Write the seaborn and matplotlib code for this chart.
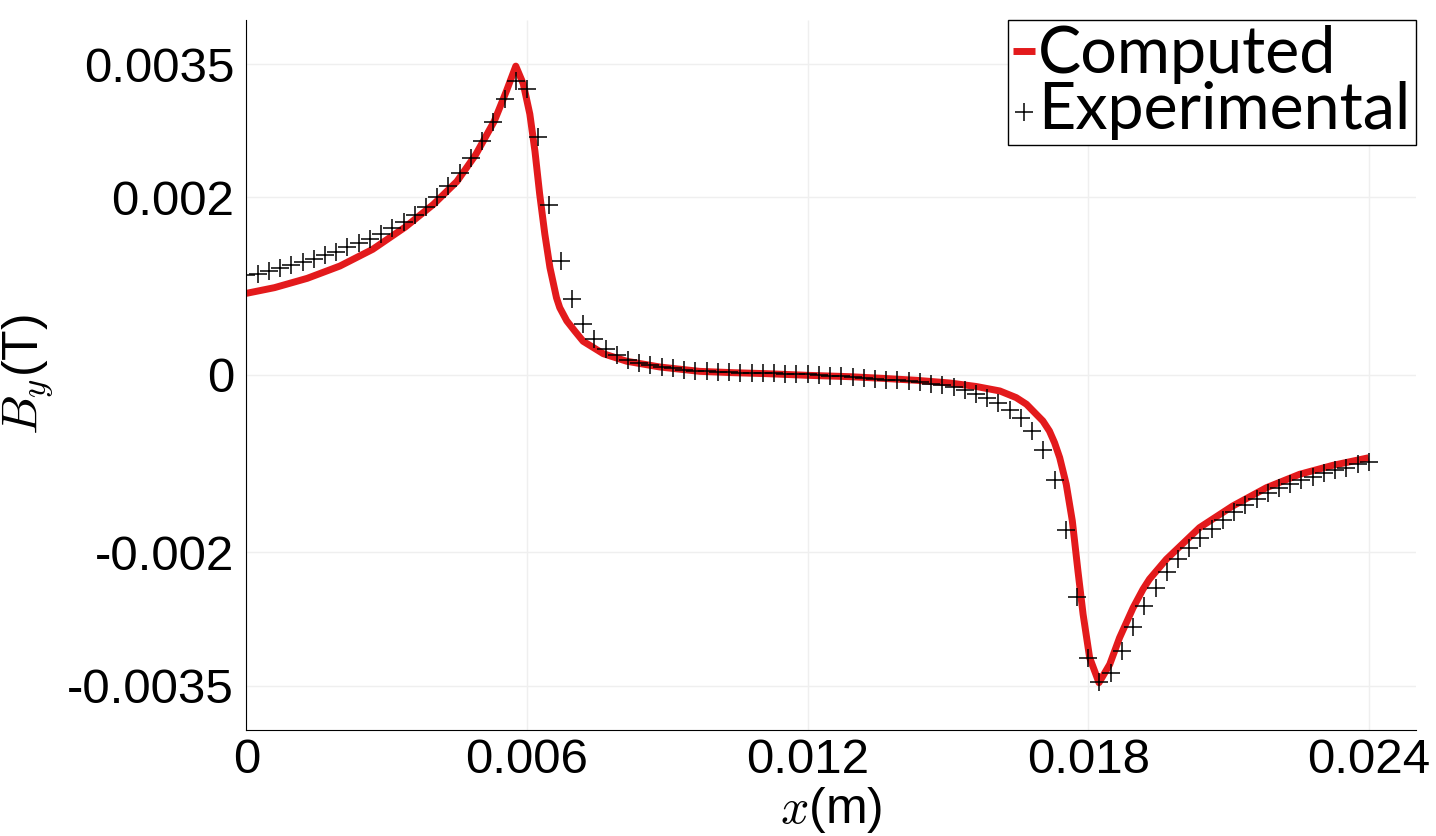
## By along x: computed vs experimental
import numpy as np
import pandas as pd
import seaborn as sns
import matplotlib.pyplot as plt

# computed curve (x in m, By in mT)
comp_x = [0.0, 0.0006, 0.0013, 0.0020, 0.0027, 0.0034, 0.0040, 0.0045, 0.0049, 0.0053,
          0.00556, 0.00576, 0.00592, 0.00606, 0.00617, 0.00627, 0.00638, 0.00649, 0.00663, 0.0067,
          0.00685, 0.00702, 0.0072, 0.00763, 0.00813, 0.00884, 0.00969, 0.01041, 0.01112, 0.01201,
          0.0129, 0.01361, 0.01433, 0.01504, 0.01561, 0.01611, 0.01646, 0.01668, 0.01689, 0.01703,
          0.01717, 0.01728, 0.01739, 0.01753, 0.01766, 0.01778, 0.01789, 0.01803, 0.01823, 0.01846,
          0.01867, 0.01896, 0.01917, 0.01931, 0.01967, 0.02038, 0.02109, 0.02181, 0.02252, 0.02323,
          0.024]
comp_by = [0.920, 0.984, 1.089, 1.228, 1.416, 1.668, 1.923, 2.180, 2.480, 2.860,
           3.200, 3.480, 3.280, 2.940, 2.520, 2.040, 1.590, 1.210, 0.870, 0.758,
           0.610, 0.496, 0.380, 0.240, 0.155, 0.090, 0.041, 0.026, 0.015, -0.004,
           -0.019, -0.038, -0.060, -0.090, -0.130, -0.180, -0.255, -0.330, -0.443, -0.518,
           -0.631, -0.763, -0.932, -1.232, -1.645, -2.208, -2.696, -3.185, -3.467, -3.260,
           -2.960, -2.622, -2.415, -2.300, -2.077, -1.720, -1.476, -1.270, -1.119, -1.018,
           -0.932]

# experimental points (x in m, By in mT)
exp_x = [0.0, 0.00024, 0.00048, 0.00072, 0.00096, 0.0012, 0.00144, 0.00168, 0.00192, 0.00216,
         0.0024, 0.00264, 0.00288, 0.00312, 0.00336, 0.0036, 0.00384, 0.00408, 0.00432, 0.00456,
         0.0048, 0.00504, 0.00528, 0.00552, 0.00576, 0.006, 0.00624, 0.00648, 0.00672, 0.00696,
         0.0072, 0.00744, 0.00768, 0.00792, 0.00816, 0.0084, 0.00864, 0.00888, 0.00912, 0.00936,
         0.0096, 0.00984, 0.01008, 0.01032, 0.01056, 0.0108, 0.01104, 0.01128, 0.01152, 0.01176,
         0.012, 0.01224, 0.01248, 0.01272, 0.01296, 0.0132, 0.01344, 0.01368, 0.01392, 0.01416,
         0.0144, 0.01464, 0.01488, 0.01512, 0.01536, 0.0156, 0.01584, 0.01608, 0.01632, 0.01656,
         0.0168, 0.01704, 0.01728, 0.01752, 0.01776, 0.018, 0.01824, 0.01848, 0.01872, 0.01896,
         0.0192, 0.01944, 0.01968, 0.01992, 0.02016, 0.0204, 0.02064, 0.02088, 0.02112, 0.02136,
         0.0216, 0.02184, 0.02208, 0.02232, 0.02256, 0.0228, 0.02304, 0.02328, 0.02352, 0.02376,
         0.024]
exp_by = [1.127, 1.142, 1.172, 1.206, 1.236, 1.270, 1.307, 1.348, 1.390, 1.439,
          1.484, 1.536, 1.592, 1.653, 1.727, 1.800, 1.897, 2.006, 2.126, 2.272,
          2.442, 2.637, 2.856, 3.106, 3.313, 3.219, 2.678, 1.919, 1.281, 0.853,
          0.578, 0.402, 0.290, 0.222, 0.166, 0.132, 0.109, 0.090, 0.075, 0.060,
          0.049, 0.041, 0.034, 0.030, 0.026, 0.0225, 0.0225, 0.019, 0.015, 0.011,
          0.0075, 0.0, -0.0075, -0.015, -0.0225, -0.030, -0.041, -0.053, -0.060, -0.071,
          -0.083, -0.098, -0.116, -0.133, -0.165, -0.210, -0.257, -0.315, -0.389, -0.481,
          -0.635, -0.845, -1.187, -1.750, -2.501, -3.185, -3.456, -3.358, -3.112, -2.841,
          -2.603, -2.400, -2.223, -2.073, -1.953, -1.840, -1.739, -1.637, -1.547, -1.468,
          -1.397, -1.330, -1.277, -1.232, -1.187, -1.149, -1.108, -1.074, -1.044, -1.007,
          -0.984]

xticks = [0, 0.006, 0.012, 0.018, 0.024]
xtick_labels = ['0', '0.006', '0.012', '0.018', '0.024']
yticks = [0.0035, 0.002, 0, -0.002, -0.0035]
ytick_labels = ['0.0035', '0.002', '0', '-0.002', '-0.0035']

sns.set_style('whitegrid', {'grid.color': '#efefef', 'axes.edgecolor': 'black'})
plt.rcParams['font.family'] = ['Liberation Sans', 'DejaVu Sans']
plt.rcParams['mathtext.fontset'] = 'cm'
plt.rcParams['axes.unicode_minus'] = False
plt.rcParams['text.color'] = 'black'
plt.rcParams['axes.labelcolor'] = 'black'
plt.rcParams['lines.solid_capstyle'] = 'butt'

comp = pd.DataFrame({'x': comp_x, 'By': np.array(comp_by) / 1000})
exp = pd.DataFrame({'x': exp_x, 'By': np.array(exp_by) / 1000})

fig = plt.figure(figsize=(14.36, 8.36), dpi=100)
ax = fig.add_axes([0.1716, 0.1268, 0.8142, 0.8493])

sns.lineplot(data=comp, x='x', y='By', color='#e31a1c', linewidth=5, sort=False,
             label='Computed', ax=ax)
sns.scatterplot(data=exp, x='x', y='By', marker='+', s=13.5**2, color='black',
                linewidth=1.1, label='Experimental', ax=ax, zorder=3)

ax.set_xlim(0, 0.025)
ax.set_ylim(-0.004, 0.004)
ax.set_xticks(xticks)
ax.set_xticklabels(xtick_labels)
ax.set_yticks(yticks)
ax.set_yticklabels(ytick_labels)
ax.tick_params(axis='both', labelsize=35.5, colors='black', direction='out', width=0.8)
ax.tick_params(axis='x', length=3, pad=3)
ax.tick_params(axis='y', length=3.3, pad=5.5)
ax.grid(True, color='#efefef', linewidth=1)

for s in ['top', 'right']:
    ax.spines[s].set_visible(False)
for s in ['left', 'bottom']:
    ax.spines[s].set_linewidth(0.8)
    ax.spines[s].set_color('black')

ax.set_xlabel('$x$(m)', fontsize=36)
ax.set_ylabel('$B_y$(T)', fontsize=36)
ax.xaxis.set_label_coords(0.5, -0.078)
ax.yaxis.set_label_coords(-0.1635, 0.5)

leg = ax.legend(loc='upper right', bbox_to_anchor=(1, 1), borderaxespad=0,
                frameon=True, fancybox=False, framealpha=1, edgecolor='black',
                prop={'family': 'Lato', 'size': 46.5}, handlelength=0.34,
                handletextpad=0.05, borderpad=0.08, labelspacing=-0.05)
leg.get_frame().set_linewidth(1.0)
for t in leg.get_texts():
    t.set_color('black')

plt.savefig('out.png', dpi=100)
